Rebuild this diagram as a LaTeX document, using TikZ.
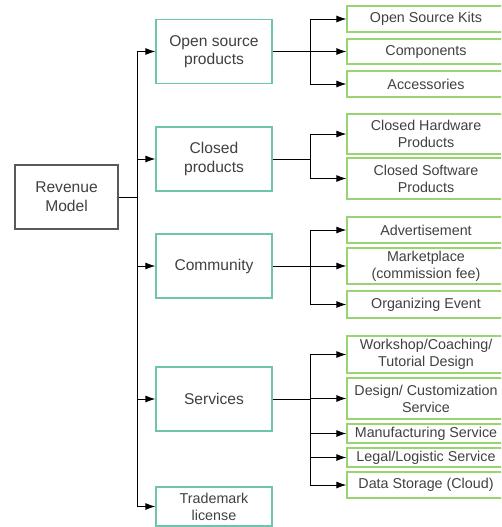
\documentclass[tikz,border=0pt]{standalone}
\usepackage{fontspec}
\setmainfont{Liberation Sans}
\usepackage{tikz}
\usetikzlibrary{arrows.meta}

\definecolor{tealline}{RGB}{110,196,172}
\definecolor{greenline}{RGB}{152,212,112}
\definecolor{textgray}{RGB}{64,64,64}

\begin{document}
\begin{tikzpicture}[x=1pt,y=-1pt]
\tikzstyle{every node}+=[inner sep=0pt, text=textgray, align=center, font=\fontsize{14.3}{17}\selectfont]
\tikzstyle{bigtext}=[font=\fontsize{15.6}{18.6}\selectfont]
\tikzstyle{rootbox}=[bigtext, draw=black!65, line width=1.1pt, minimum width=103pt, minimum height=64pt]
\tikzstyle{catbox}=[bigtext, draw=tealline, line width=1.3pt, minimum width=116pt, minimum height=64pt]
\tikzstyle{itembox}=[draw=greenline, line width=1.3pt, minimum width=158pt]
\tikzstyle{arr}=[-{Latex[length=10pt,width=7pt]}, black, line width=0.9pt]
\tikzstyle{link}=[black, line width=0.9pt]
\clip (0,0) rectangle (501,527);
% root
\node [rootbox] (rev) at (66.5,197) {Revenue\\Model};
% categories
\node [catbox] (open) at (214,51.5) {Open source\\products};
\node [catbox] (closed) at (214,159) {Closed\\products};
\node [catbox] (comm) at (214,266) {Community};
\node [catbox] (serv) at (214,399) {Services};
\node [catbox, minimum height=39pt, font=\fontsize{14.3}{17}\selectfont] (tm) at (214,506.5) {Trademark\\license};
% items
\node [itembox, minimum height=26pt] (kits) at (426,19) {Open Source Kits};
\node [itembox, minimum height=25pt] (comp) at (426,51.5) {Components};
\node [itembox, minimum height=26pt] (acc) at (426,84) {Accessories};
\node [itembox, minimum height=40pt] (chw) at (426,134) {Closed Hardware\\Products};
\node [itembox, minimum height=41pt] (csw) at (426,178.5) {Closed Software\\Products};
\node [itembox, minimum height=26pt] (adv) at (426,230) {Advertisement};
\node [itembox, minimum height=36pt] (mkt) at (426,266) {Marketplace\\(commission fee)};
\node [itembox, minimum height=27pt] (org) at (426,304.5) {Organizing Event};
\node [itembox, minimum height=37pt] (work) at (426,354.5) {Workshop/Coaching/\\Tutorial Design};
\node [itembox, minimum height=41pt] (des) at (426,398.5) {Design/ Customization\\Service};
\node [itembox, minimum height=19pt] (man) at (426,433.5) {Manufacturing Service};
\node [itembox, minimum height=19pt] (leg) at (426,457.5) {Legal/Logistic Service};
\node [itembox, minimum height=26pt] (data) at (426,485) {Data Storage (Cloud)};
% root to categories
\coordinate (hub) at (137,197);
\draw [link] (rev.east) -- (hub);
\foreach \c in {open,closed,comm,serv,tm}
  \draw [arr] (hub) |- (\c.west);
% categories to items
\coordinate (openhub) at (310,51.5);
\draw [link] (open.east) -- (openhub);
\foreach \i in {kits,comp,acc}
  \draw [arr] (openhub) |- (\i.west);
\coordinate (closedhub) at (310,159);
\draw [link] (closed.east) -- (closedhub);
\foreach \i in {chw,csw}
  \draw [arr] (closedhub) |- (\i.west);
\coordinate (commhub) at (310,266);
\draw [link] (comm.east) -- (commhub);
\foreach \i in {adv,mkt,org}
  \draw [arr] (commhub) |- (\i.west);
\coordinate (servhub) at (310,399);
\draw [link] (serv.east) -- (servhub);
\foreach \i in {work,des,man,leg,data}
  \draw [arr] (servhub) |- (\i.west);
\end{tikzpicture}
\end{document}
